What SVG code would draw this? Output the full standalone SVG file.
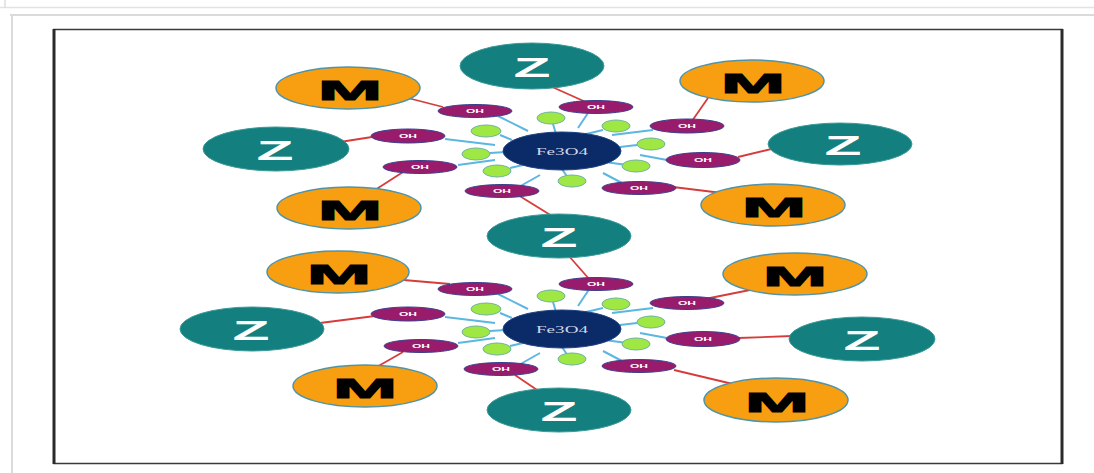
<svg xmlns="http://www.w3.org/2000/svg" width="1094" height="473" viewBox="0 0 1094 473">
<style>
.z{fill:#137f7e;stroke:#3a9a9a;stroke-width:1}
.m{fill:#f79f10;stroke:#4f94a8;stroke-width:1.5}
.oh{fill:#991c6c;stroke:#3c3f8c;stroke-width:1}
.g{fill:#9fe844;stroke:#6cb3a0;stroke-width:1}
.fe{fill:#0a2a68;stroke:#1d3f80;stroke-width:1}
.zt{font-family:"Liberation Sans",Arial,sans-serif;font-weight:bold;font-size:27px;fill:#ffffff}
.mt{font-family:"Liberation Sans",Arial,sans-serif;font-weight:bold;font-size:27px;fill:#000000;stroke:#000000;stroke-width:1}
.oht{font-family:"Liberation Sans",Arial,sans-serif;font-weight:bold;font-size:6px;fill:#ffffff}
.fet{font-family:"Liberation Serif","Times New Roman",serif;font-size:10px;fill:#cfd5e6}
.red{stroke:#d63c3c;stroke-width:1.8;fill:none}
.blue{stroke:#5cb6e2;stroke-width:2;fill:none}
</style>
<rect x="0" y="0" width="1094" height="473" fill="#ffffff"/>
<g id="page-frame">
<line x1="0" y1="7.5" x2="1094" y2="7.5" stroke="#e2e2e2" stroke-width="1.5"/>
<line x1="5" y1="0" x2="5" y2="8" stroke="#dcdcdc" stroke-width="1.5"/>
<line x1="10" y1="15" x2="1094" y2="15" stroke="#dadada" stroke-width="2"/>
<line x1="12" y1="15" x2="12" y2="473" stroke="#dadada" stroke-width="2"/>
<rect x="54" y="29.5" width="1008" height="434" fill="none" stroke="#3a3a3a" stroke-width="1.5"/>
<line x1="54" y1="29" x2="54" y2="464" stroke="#2a2a2a" stroke-width="3"/>
<line x1="1062" y1="29" x2="1062" y2="464" stroke="#2a2a2a" stroke-width="3"/>
</g>
<g id="connectors">
<line class="red" x1="443" y1="107" x2="400" y2="96"/>
<line class="red" x1="372" y1="137" x2="340" y2="142"/>
<line class="red" x1="403" y1="172" x2="375" y2="190"/>
<line class="red" x1="518" y1="195" x2="552" y2="216"/>
<line class="red" x1="550" y1="86" x2="588" y2="103"/>
<line class="red" x1="692" y1="121" x2="708" y2="98"/>
<line class="red" x1="738" y1="157" x2="784" y2="146"/>
<line class="red" x1="673" y1="187" x2="722" y2="193"/>
<line class="red" x1="568" y1="255" x2="590" y2="280"/>
<line class="red" x1="392" y1="279" x2="450" y2="284"/>
<line class="red" x1="320" y1="323" x2="375" y2="316"/>
<line class="red" x1="403" y1="352" x2="375" y2="368"/>
<line class="red" x1="515" y1="375" x2="540" y2="392"/>
<line class="red" x1="705" y1="299" x2="750" y2="290"/>
<line class="red" x1="738" y1="338" x2="792" y2="336"/>
<line class="red" x1="674" y1="370" x2="737" y2="385"/>
<g id="blue-top">
<line class="blue" x1="498" y1="116" x2="528" y2="131"/>
<line class="blue" x1="553" y1="124" x2="556" y2="134"/>
<line class="blue" x1="590" y1="110" x2="578" y2="128"/>
<line class="blue" x1="603" y1="130" x2="582" y2="135"/>
<line class="blue" x1="653" y1="130" x2="612" y2="135"/>
<line class="blue" x1="637" y1="145" x2="620" y2="147"/>
<line class="blue" x1="667" y1="160" x2="640" y2="155"/>
<line class="blue" x1="627" y1="165" x2="605" y2="162"/>
<line class="blue" x1="622" y1="183" x2="603" y2="173"/>
<line class="blue" x1="568" y1="178" x2="562" y2="169"/>
<line class="blue" x1="517" y1="188" x2="540" y2="175"/>
<line class="blue" x1="510" y1="168" x2="523" y2="165"/>
<line class="blue" x1="458" y1="165" x2="495" y2="160"/>
<line class="blue" x1="490" y1="153" x2="506" y2="152"/>
<line class="blue" x1="445" y1="139" x2="495" y2="145"/>
<line class="blue" x1="500" y1="135" x2="512" y2="140"/>
</g>
<g id="blue-bottom" transform="translate(0,178)">
<line class="blue" x1="498" y1="116" x2="528" y2="131"/>
<line class="blue" x1="553" y1="124" x2="556" y2="134"/>
<line class="blue" x1="590" y1="110" x2="578" y2="128"/>
<line class="blue" x1="603" y1="130" x2="582" y2="135"/>
<line class="blue" x1="653" y1="130" x2="612" y2="135"/>
<line class="blue" x1="637" y1="145" x2="620" y2="147"/>
<line class="blue" x1="667" y1="160" x2="640" y2="155"/>
<line class="blue" x1="627" y1="165" x2="605" y2="162"/>
<line class="blue" x1="622" y1="183" x2="603" y2="173"/>
<line class="blue" x1="568" y1="178" x2="562" y2="169"/>
<line class="blue" x1="517" y1="188" x2="540" y2="175"/>
<line class="blue" x1="510" y1="168" x2="523" y2="165"/>
<line class="blue" x1="458" y1="165" x2="495" y2="160"/>
<line class="blue" x1="490" y1="153" x2="506" y2="152"/>
<line class="blue" x1="445" y1="139" x2="495" y2="145"/>
<line class="blue" x1="500" y1="135" x2="512" y2="140"/>
</g>
</g>
<!-- top cluster -->
<g id="fe-top"><ellipse class="fe" cx="562" cy="151" rx="59" ry="19"/><text class="fet" x="562" y="154.5" text-anchor="middle" textLength="52" lengthAdjust="spacingAndGlyphs">Fe3O4</text></g>
<g id="g-top-1"><ellipse class="g" cx="551" cy="118" rx="14" ry="6"/></g>
<g id="g-top-2"><ellipse class="g" cx="616" cy="126" rx="14" ry="6"/></g>
<g id="g-top-3"><ellipse class="g" cx="486" cy="131" rx="15" ry="6"/></g>
<g id="g-top-4"><ellipse class="g" cx="651" cy="144" rx="14" ry="6"/></g>
<g id="g-top-5"><ellipse class="g" cx="476" cy="154" rx="14" ry="6"/></g>
<g id="g-top-6"><ellipse class="g" cx="636" cy="166" rx="14" ry="6"/></g>
<g id="g-top-7"><ellipse class="g" cx="497" cy="171" rx="14" ry="6"/></g>
<g id="g-top-8"><ellipse class="g" cx="572" cy="181" rx="14" ry="6"/></g>
<g id="oh-top-1"><ellipse class="oh" cx="475" cy="111" rx="37" ry="6.5"/><text class="oht" x="475" y="113.2" text-anchor="middle" textLength="18" lengthAdjust="spacingAndGlyphs">OH</text></g>
<g id="oh-top-2"><ellipse class="oh" cx="408" cy="136" rx="37" ry="7"/><text class="oht" x="408" y="138.2" text-anchor="middle" textLength="18" lengthAdjust="spacingAndGlyphs">OH</text></g>
<g id="oh-top-3"><ellipse class="oh" cx="420" cy="167" rx="37" ry="6.5"/><text class="oht" x="420" y="169.2" text-anchor="middle" textLength="18" lengthAdjust="spacingAndGlyphs">OH</text></g>
<g id="oh-top-4"><ellipse class="oh" cx="502" cy="191" rx="37" ry="6.5"/><text class="oht" x="502" y="193.2" text-anchor="middle" textLength="18" lengthAdjust="spacingAndGlyphs">OH</text></g>
<g id="oh-top-5"><ellipse class="oh" cx="596" cy="107" rx="37" ry="6.5"/><text class="oht" x="596" y="109.2" text-anchor="middle" textLength="18" lengthAdjust="spacingAndGlyphs">OH</text></g>
<g id="oh-top-6"><ellipse class="oh" cx="687" cy="126" rx="37" ry="7"/><text class="oht" x="687" y="128.2" text-anchor="middle" textLength="18" lengthAdjust="spacingAndGlyphs">OH</text></g>
<g id="oh-top-7"><ellipse class="oh" cx="703" cy="160" rx="37" ry="7.5"/><text class="oht" x="703" y="162.2" text-anchor="middle" textLength="18" lengthAdjust="spacingAndGlyphs" transform="matrix(1 0 0 -1 0 320)">OH</text></g>
<g id="oh-top-8"><ellipse class="oh" cx="639" cy="188" rx="37" ry="6.5"/><text class="oht" x="639" y="190.2" text-anchor="middle" textLength="18" lengthAdjust="spacingAndGlyphs">OH</text></g>
<g id="z-top"><ellipse class="z" cx="532" cy="66" rx="72" ry="23"/><text class="zt" x="532" y="77" text-anchor="middle" textLength="37" lengthAdjust="spacingAndGlyphs">Z</text></g>
<g id="m-top-left"><ellipse class="m" cx="348" cy="88" rx="72" ry="21"/><text class="mt" x="350" y="100" text-anchor="middle" textLength="64" lengthAdjust="spacingAndGlyphs">M</text></g>
<g id="z-left-top"><ellipse class="z" cx="276" cy="149" rx="73" ry="22"/><text class="zt" x="275" y="160" text-anchor="middle" textLength="37" lengthAdjust="spacingAndGlyphs">Z</text></g>
<g id="m-bottom-left-top"><ellipse class="m" cx="349" cy="208" rx="72" ry="21"/><text class="mt" x="350" y="220" text-anchor="middle" textLength="64" lengthAdjust="spacingAndGlyphs">M</text></g>
<g id="m-top-right"><ellipse class="m" cx="752" cy="81" rx="72" ry="21"/><text class="mt" x="753" y="93" text-anchor="middle" textLength="64" lengthAdjust="spacingAndGlyphs">M</text></g>
<g id="z-right-top"><ellipse class="z" cx="840" cy="144" rx="72" ry="21"/><text class="zt" x="843" y="155" text-anchor="middle" textLength="37" lengthAdjust="spacingAndGlyphs">Z</text></g>
<g id="m-bottom-right-top"><ellipse class="m" cx="773" cy="205" rx="72" ry="21"/><text class="mt" x="774" y="217" text-anchor="middle" textLength="64" lengthAdjust="spacingAndGlyphs">M</text></g>
<g id="z-middle"><ellipse class="z" cx="559" cy="236" rx="72" ry="22"/><text class="zt" x="559" y="247" text-anchor="middle" textLength="37" lengthAdjust="spacingAndGlyphs">Z</text></g>
<!-- bottom cluster -->
<g id="fe-bottom"><ellipse class="fe" cx="562" cy="329" rx="59" ry="19"/><text class="fet" x="562" y="332.5" text-anchor="middle" textLength="52" lengthAdjust="spacingAndGlyphs">Fe3O4</text></g>
<g id="g-bot-1"><ellipse class="g" cx="551" cy="296" rx="14" ry="6"/></g>
<g id="g-bot-2"><ellipse class="g" cx="616" cy="304" rx="14" ry="6"/></g>
<g id="g-bot-3"><ellipse class="g" cx="486" cy="309" rx="15" ry="6"/></g>
<g id="g-bot-4"><ellipse class="g" cx="651" cy="322" rx="14" ry="6"/></g>
<g id="g-bot-5"><ellipse class="g" cx="476" cy="332" rx="14" ry="6"/></g>
<g id="g-bot-6"><ellipse class="g" cx="636" cy="344" rx="14" ry="6"/></g>
<g id="g-bot-7"><ellipse class="g" cx="497" cy="349" rx="14" ry="6"/></g>
<g id="g-bot-8"><ellipse class="g" cx="572" cy="359" rx="14" ry="6"/></g>
<g id="oh-bot-1"><ellipse class="oh" cx="475" cy="289" rx="37" ry="6.5"/><text class="oht" x="475" y="291.2" text-anchor="middle" textLength="18" lengthAdjust="spacingAndGlyphs">OH</text></g>
<g id="oh-bot-2"><ellipse class="oh" cx="408" cy="314" rx="37" ry="7"/><text class="oht" x="408" y="316.2" text-anchor="middle" textLength="18" lengthAdjust="spacingAndGlyphs">OH</text></g>
<g id="oh-bot-3"><ellipse class="oh" cx="421" cy="346" rx="37" ry="6.5"/><text class="oht" x="421" y="348.2" text-anchor="middle" textLength="18" lengthAdjust="spacingAndGlyphs">OH</text></g>
<g id="oh-bot-4"><ellipse class="oh" cx="501" cy="369" rx="37" ry="6.5"/><text class="oht" x="501" y="371.2" text-anchor="middle" textLength="18" lengthAdjust="spacingAndGlyphs">OH</text></g>
<g id="oh-bot-5"><ellipse class="oh" cx="596" cy="284" rx="37" ry="6.5"/><text class="oht" x="596" y="286.2" text-anchor="middle" textLength="18" lengthAdjust="spacingAndGlyphs">OH</text></g>
<g id="oh-bot-6"><ellipse class="oh" cx="687" cy="303" rx="37" ry="6.5"/><text class="oht" x="687" y="305.2" text-anchor="middle" textLength="18" lengthAdjust="spacingAndGlyphs">OH</text></g>
<g id="oh-bot-7"><ellipse class="oh" cx="703" cy="339" rx="37" ry="7.5"/><text class="oht" x="703" y="341.2" text-anchor="middle" textLength="18" lengthAdjust="spacingAndGlyphs">OH</text></g>
<g id="oh-bot-8"><ellipse class="oh" cx="639" cy="366" rx="37" ry="6.5"/><text class="oht" x="639" y="368.2" text-anchor="middle" textLength="18" lengthAdjust="spacingAndGlyphs">OH</text></g>
<g id="m-top-left-bottom"><ellipse class="m" cx="338" cy="272" rx="71" ry="21"/><text class="mt" x="339" y="284" text-anchor="middle" textLength="64" lengthAdjust="spacingAndGlyphs">M</text></g>
<g id="z-left-bottom"><ellipse class="z" cx="252" cy="329" rx="72" ry="22"/><text class="zt" x="251" y="340" text-anchor="middle" textLength="37" lengthAdjust="spacingAndGlyphs">Z</text></g>
<g id="m-bottom-left-bottom"><ellipse class="m" cx="365" cy="386" rx="72" ry="21"/><text class="mt" x="365" y="398" text-anchor="middle" textLength="64" lengthAdjust="spacingAndGlyphs">M</text></g>
<g id="z-bottom"><ellipse class="z" cx="559" cy="410" rx="72" ry="22"/><text class="zt" x="559" y="421" text-anchor="middle" textLength="37" lengthAdjust="spacingAndGlyphs">Z</text></g>
<g id="m-top-right-bottom"><ellipse class="m" cx="795" cy="274" rx="72" ry="21"/><text class="mt" x="795" y="286" text-anchor="middle" textLength="64" lengthAdjust="spacingAndGlyphs">M</text></g>
<g id="z-right-bottom"><ellipse class="z" cx="862" cy="339" rx="73" ry="22"/><text class="zt" x="862" y="350" text-anchor="middle" textLength="37" lengthAdjust="spacingAndGlyphs">Z</text></g>
<g id="m-bottom-right-bottom"><ellipse class="m" cx="776" cy="400" rx="72" ry="22"/><text class="mt" x="777" y="412" text-anchor="middle" textLength="64" lengthAdjust="spacingAndGlyphs">M</text></g>
</svg>
